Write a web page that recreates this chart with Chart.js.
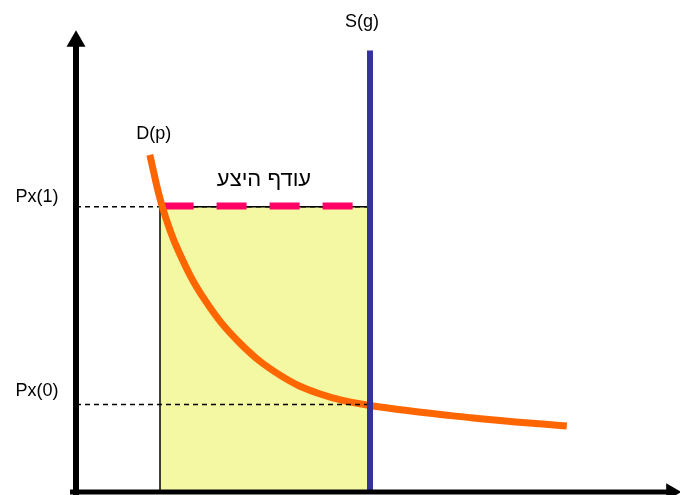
<!DOCTYPE html>
<html>
<head>
<meta charset="utf-8">
<script src="https://cdn.jsdelivr.net/npm/chart.js@4"></script>
<style>
  body { margin: 0; background: #fff; }
</style>
</head>
<body>
<canvas id="myChart" width="680" height="495"></canvas>
<script>
// quantity / price values of the demand curve D(p)
const demandQ = [12.3, 14.3, 17.0, 21.5, 27.3, 34.0, 40.7, 48.5, 66.2, 81.8];
const demandP = [73.3, 62.4, 52.6, 41.7, 32.4, 25.4, 21.3, 18.9, 16.1, 14.35];

// supply S(g) is fixed at this quantity
const supplyQ = 49;
const supplyTop = 96;

// prices and the quantity demanded at Px(1)
const px1 = 62;
const px0 = 19;
const demandAtPx1 = 14;

const priceLabels = ['Px(1)', 'Px(0)'];
const curveLabels = ['D(p)', 'S(g)'];
const surplusLabel = 'עודף היצע';

const demandPoints = demandQ.map((q, i) => ({ x: q, y: demandP[i] }));

const labelPlugin = {
  id: 'labels',
  afterDatasetsDraw(chart) {
    const ctx = chart.ctx;
    const xs = chart.scales.x;
    const ys = chart.scales.y;
    ctx.save();
    ctx.fillStyle = '#000';
    ctx.textAlign = 'center';
    ctx.textBaseline = 'middle';
    ctx.font = '18px "Liberation Sans", Arial, sans-serif';
    ctx.fillText(priceLabels[0], xs.getPixelForValue(0) - 39, ys.getPixelForValue(px1) - 10);
    ctx.fillText(priceLabels[1], xs.getPixelForValue(0) - 39, ys.getPixelForValue(px0) - 14);
    ctx.fillText(curveLabels[0], xs.getPixelForValue(demandQ[0]) + 4, ys.getPixelForValue(demandP[0]) - 21);
    ctx.fillText(curveLabels[1], xs.getPixelForValue(supplyQ) - 8, ys.getPixelForValue(supplyTop) - 28);
    ctx.font = '22px "Liberation Sans", Arial, sans-serif';
    ctx.fillText(surplusLabel, xs.getPixelForValue((demandAtPx1 + supplyQ) / 2) - 1, ys.getPixelForValue(px1) - 27);
    ctx.restore();
  }
};

const line = (data, color, width, extra) => Object.assign({
  data: data,
  showLine: true,
  borderColor: color,
  borderWidth: width,
  pointRadius: 0,
  fill: false,
  clip: false,
}, extra || {});

new Chart(document.getElementById('myChart'), {
  type: 'scatter',
  data: {
    datasets: [
      // y axis with arrow
      line([{ x: 0, y: -0.7 }, { x: 0, y: 98 }], '#000', 6, {
        pointRadius: [0, 11], pointStyle: 'triangle', pointBackgroundColor: '#000', pointBorderWidth: 0, order: 0,
      }),
      // x axis with arrow
      line([{ x: -1, y: 0 }, { x: 99.2, y: 0 }], '#000', 5, {
        pointRadius: [0, 10], pointStyle: 'triangle', pointRotation: 90, pointBackgroundColor: '#000', pointBorderWidth: 0, order: 1,
      }),
      // supply
      line([{ x: supplyQ, y: -0.2 }, { x: supplyQ, y: supplyTop }], '#333399', 6, { order: 2 }),
      // price guides
      line([{ x: 0, y: px1 }, { x: supplyQ, y: px1 }], '#000', 1.5, { borderDash: [5, 4], order: 5 }),
      line([{ x: 0, y: px0 }, { x: supplyQ, y: px0 }], '#000', 1.5, { borderDash: [5, 4], order: 3 }),
      // demand
      line(demandPoints, '#FF6600', 7, { tension: 0.4, order: 4 }),
      // excess supply
      line([{ x: demandAtPx1 + 0.6, y: px1 + 0.2 }, { x: supplyQ - 0.5, y: px1 + 0.2 }], '#FF0066', 7, { borderDash: [30, 23], order: 4.5 }),
      // surplus area
      line([{ x: demandAtPx1, y: 0 }, { x: demandAtPx1, y: px1 }, { x: supplyQ, y: px1 }, { x: supplyQ, y: 0 }], '#000', 1.5, {
        fill: 'origin', backgroundColor: '#F4F8A2', order: 7,
      }),
    ]
  },
  options: {
    responsive: false,
    animation: false,
    layout: { autoPadding: false, padding: { left: 76, right: 4, top: 32, bottom: 3 } },
    plugins: { legend: { display: false }, tooltip: { enabled: false } },
    scales: {
      x: { type: 'linear', min: 0, max: 100, display: false },
      y: { type: 'linear', min: 0, max: 100, display: false },
    },
  },
  plugins: [labelPlugin],
});
</script>
</body>
</html>
